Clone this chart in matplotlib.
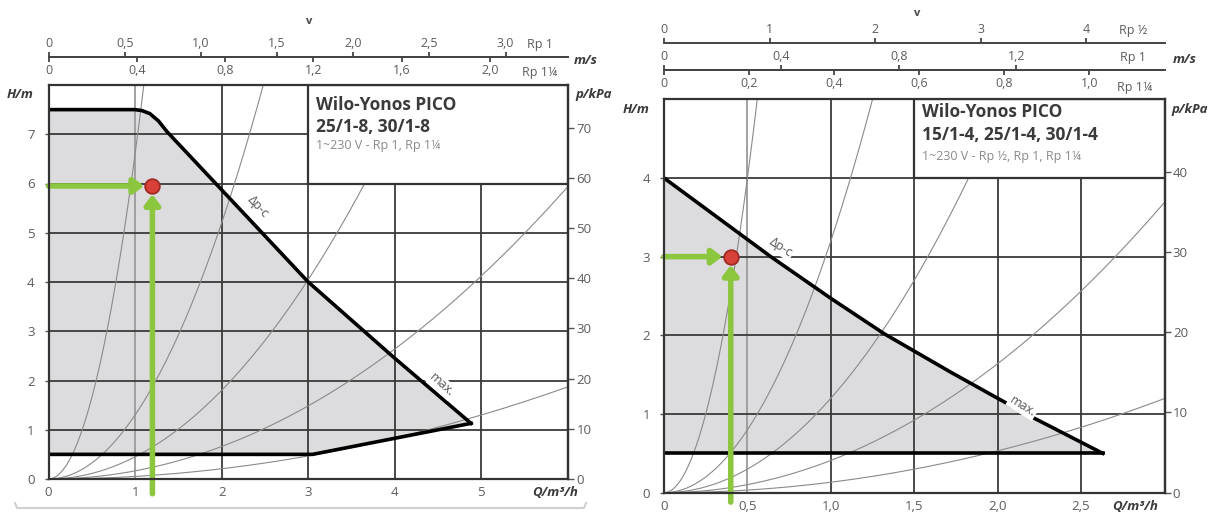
import matplotlib.pyplot as plt
import numpy as np
from matplotlib.patches import Rectangle
from matplotlib.lines import Line2D

plt.rcParams['font.family'] = ['Open Sans', 'DejaVu Sans']

# ---- left diagram: Wilo-Yonos PICO 25/1-8, 30/1-8 ----
left_q_ticks = [0, 1, 2, 3, 4, 5]
left_h_ticks = [0, 1, 2, 3, 4, 5, 6, 7]
left_p_ticks = [0, 10, 20, 30, 40, 50, 60, 70]
left_rp1_v = [0, 0.5, 1.0, 1.5, 2.0, 2.5, 3.0]
left_rp114_v = [0, 0.4, 0.8, 1.2, 1.6, 2.0]
left_max_q = [0, 1.0, 1.08, 1.17, 1.27, 1.37, 3.0, 4.0, 4.88]
left_max_h = [7.5, 7.5, 7.48, 7.42, 7.27, 7.05, 4.0, 2.45, 1.13]
left_min_q = [4.88, 3.05, 0]
left_min_h = [1.13, 0.5, 0.5]
left_system_k = [6.6, 1.3, 0.45, 0.165, 0.052]   # H = k * Q^2
left_duty = (1.2, 5.95)

# ---- right diagram: Wilo-Yonos PICO 15/1-4, 25/1-4, 30/1-4 ----
right_q_ticks = [0, 0.5, 1.0, 1.5, 2.0, 2.5]
right_h_ticks = [0, 1, 2, 3, 4]
right_p_ticks = [0, 10, 20, 30, 40]
right_rp12_v = [0, 1, 2, 3, 4]
right_rp1_v = [0, 0.4, 0.8, 1.2]
right_rp114_v = [0, 0.2, 0.4, 0.6, 0.8, 1.0]
right_max_q = [0, 0.64, 1.0, 1.32, 1.72, 2.17, 2.63]
right_max_h = [4.0, 3.0, 2.47, 2.02, 1.53, 1.0, 0.5]
right_min_q = [2.63, 0]
right_min_h = [0.5, 0.5]
right_system_k = [16, 3.2, 1.2, 0.41, 0.133]
right_duty = (0.4, 3.0)

# flow (m3/h) that gives 1 m/s in each thread size
q_per_ms = {'Rp ½': 0.633, 'Rp 1': 1.76, 'Rp 1¼': 2.55}

GRID = '#3a3a3a'
GRID_LIGHT = '#9a9a9a'
CURVE = '#8a8a8a'
FILL = '#dcdcde'
GREEN = '#8cc63f'
TXT = '#5c5c5c'
DARK = '#333333'


def comma(v):
    return '0' if v == 0 else f'{v:.1f}'.replace('.', ',')


def vel_axis(ax, loc, q_per, ticks, labels, side):
    sec = ax.secondary_xaxis(loc, functions=(lambda q: q / q_per, lambda v: v * q_per))
    sec.set_xticks(ticks)
    sec.set_xticklabels(labels)
    sec.xaxis.set_ticks_position(side)
    sec.tick_params(axis='x', direction='out', length=3.5, width=1.3, color='#444',
                    labelcolor=TXT, labelsize=9, pad=1.5)
    for s in sec.spines.values():
        s.set_color('#444')
        s.set_linewidth(1.4)
    return sec


def panel(ax, q_max, h_max, q_ticks, q_labels, h_ticks, p_ticks, light_q,
          max_q, max_h, min_q, min_h, ks, duty, arrow_from, box_q, box_h,
          lines, line_offs):
    ax.set_xlim(0, q_max)
    ax.set_ylim(0, h_max)
    ax.fill(max_q + min_q, max_h + min_h, color=FILL, lw=0, zorder=1)
    for q in q_ticks[1:]:
        ax.axvline(q, color=GRID_LIGHT if q in light_q else GRID, lw=1.3, zorder=2)
    for h in h_ticks[1:]:
        ax.axhline(h, color=GRID, lw=1.3, zorder=2)
    qq = np.linspace(0, q_max, 400)
    for k in ks:
        ax.plot(qq, k * qq ** 2, color=CURVE, lw=0.8, zorder=2.5)
    ax.add_patch(Rectangle((box_q, box_h), q_max - box_q, h_max - box_h,
                           facecolor='white', edgecolor=DARK, lw=1.6, zorder=3))
    ax.plot(max_q, max_h, color='black', lw=2.6, zorder=4, solid_joinstyle='round')
    ax.plot(min_q, min_h, color='black', lw=2.6, zorder=4, solid_joinstyle='round')

    # legend text in the white box
    styles = [dict(fontsize=12.5, fontweight='bold', color='#3a3a3a'),
              dict(fontsize=12.5, fontweight='bold', color='#3a3a3a'),
              dict(fontsize=9, color='#8a8a8a')]
    for txt, off, st in zip(lines, line_offs, styles):
        ax.annotate(txt, xy=(box_q, h_max), xytext=(5.5, off), textcoords='offset points',
                    va='center', ha='left', zorder=6, **st)

    # duty point with green guide arrows
    ax.annotate('', xy=duty, xytext=(0, duty[1]), annotation_clip=False, zorder=5,
                arrowprops=dict(arrowstyle='-|>,head_length=0.6,head_width=0.45',
                                color=GREEN, lw=4, shrinkA=0, shrinkB=6))
    ax.annotate('', xy=duty, xytext=(duty[0], arrow_from), annotation_clip=False, zorder=5,
                arrowprops=dict(arrowstyle='-|>,head_length=0.6,head_width=0.45',
                                color=GREEN, lw=4, shrinkA=0, shrinkB=6))
    ax.plot(*duty, 'o', ms=10.5, mfc='#d8413a', mec='#a02a22', mew=1.3, zorder=6, clip_on=False)

    for s in ax.spines.values():
        s.set_color(DARK)
        s.set_linewidth(1.6)
        s.set_zorder(5)
    ax.set_xticks(q_ticks)
    ax.set_xticklabels(q_labels)
    ax.set_yticks(h_ticks)
    ax.tick_params(axis='x', length=0, pad=5, labelcolor=TXT, labelsize=9.5)
    ax.tick_params(axis='y', length=3, width=1, color='#555', pad=7, labelcolor=TXT, labelsize=9.5)

    sp = ax.secondary_yaxis('right', functions=(lambda h: h * 9.81, lambda p: p / 9.81))
    sp.set_yticks(p_ticks)
    sp.tick_params(axis='y', length=4, width=1, color='#555', pad=2, labelcolor=TXT, labelsize=9.5)
    sp.spines['right'].set_color(DARK)
    sp.spines['right'].set_linewidth(1.6)

    unit = dict(fontsize=9.5, style='italic', fontweight='bold', color='#3a3a3a')
    ax.text(-0.055, 0.975, 'H/m', transform=ax.transAxes, ha='center', va='center', **unit)
    ax.text(1.05, 0.975, 'p/kPa', transform=ax.transAxes, ha='center', va='center', **unit)


fig = plt.figure(figsize=(12.19, 5.13), dpi=100)
W, H = 1219, 513

axL = fig.add_axes([48.5 / W, (H - 479) / H, 519.5 / W, 394 / H])
panel(axL, 6, 8, left_q_ticks, [str(q) for q in left_q_ticks], left_h_ticks, left_p_ticks, [1],
      left_max_q, left_max_h, left_min_q, left_min_h, left_system_k, left_duty, -0.3, 3, 6,
      ['Wilo-Yonos PICO', '25/1-8, 30/1-8', '1~230 V - Rp 1, Rp 1¼'], [-14.5, -30.5, -43.5])
axL.text(0.975, -0.034, 'Q/m³/h', transform=axL.transAxes, ha='center', va='center',
         fontsize=9.5, style='italic', fontweight='bold', color='#3a3a3a')
axL.text(2.42, 5.52, 'Δp-c', rotation=-47, rotation_mode='anchor', ha='center', va='center',
         fontsize=9, color='#555', zorder=4.5)
axL.text(4.54, 1.91, 'max.', rotation=-42, rotation_mode='anchor', ha='center', va='center',
         fontsize=9, color='#555', zorder=4.5,
         bbox=dict(facecolor='white', edgecolor='none', pad=1))
vel_axis(axL, 1.071, q_per_ms['Rp 1'], left_rp1_v, [comma(v) for v in left_rp1_v], 'top')
vel_axis(axL, 1.071, q_per_ms['Rp 1¼'], left_rp114_v, [comma(v) for v in left_rp114_v], 'bottom')
axL.text(0.946, 1.102, 'Rp 1', transform=axL.transAxes, ha='center', va='center', fontsize=9, color=TXT)
axL.text(0.946, 1.031, 'Rp 1¼', transform=axL.transAxes, ha='center', va='center', fontsize=9, color=TXT)
axL.text(1.035, 1.063, 'm/s', transform=axL.transAxes, ha='center', va='center',
         fontsize=9.5, style='italic', fontweight='bold', color='#3a3a3a')
axL.text(0.501, 1.16, 'v', transform=axL.transAxes, ha='center', va='center',
         fontsize=8, fontweight='bold', color='#444')

axR = fig.add_axes([664 / W, (H - 492.7) / H, 500.5 / W, 393.4 / H])
panel(axR, 3, 5, right_q_ticks, [comma(q) for q in right_q_ticks], right_h_ticks, right_p_ticks, [0.5],
      right_max_q, right_max_h, right_min_q, right_min_h, right_system_k, right_duty, -0.12, 1.5, 4,
      ['Wilo-Yonos PICO', '15/1-4, 25/1-4, 30/1-4', '1~230 V - Rp ½, Rp 1, Rp 1¼'], [-9.5, -26, -41])
axR.text(0.941, -0.034, 'Q/m³/h', transform=axR.transAxes, ha='center', va='center',
         fontsize=9.5, style='italic', fontweight='bold', color='#3a3a3a')
axR.text(0.70, 3.12, 'Δp-c', rotation=-33, rotation_mode='anchor', ha='center', va='center',
         fontsize=9, color='#555', zorder=4.5,
         bbox=dict(facecolor='white', edgecolor='none', pad=1))
axR.text(2.15, 1.1, 'max.', rotation=-32, rotation_mode='anchor', ha='center', va='center',
         fontsize=9, color='#555', zorder=4.5,
         bbox=dict(facecolor='white', edgecolor='none', pad=1))
vel_axis(axR, 1.143, q_per_ms['Rp ½'], right_rp12_v, [str(v) for v in right_rp12_v], 'top')
vel_axis(axR, 1.074, q_per_ms['Rp 1'], right_rp1_v, [comma(v) for v in right_rp1_v], 'top')
vel_axis(axR, 1.074, q_per_ms['Rp 1¼'], right_rp114_v, [comma(v) for v in right_rp114_v], 'bottom')
axR.text(0.937, 1.174, 'Rp ½', transform=axR.transAxes, ha='center', va='center', fontsize=9, color=TXT)
axR.text(0.937, 1.105, 'Rp 1', transform=axR.transAxes, ha='center', va='center', fontsize=9, color=TXT)
axR.text(0.941, 1.031, 'Rp 1¼', transform=axR.transAxes, ha='center', va='center', fontsize=9, color=TXT)
axR.text(1.041, 1.100, 'm/s', transform=axR.transAxes, ha='center', va='center',
         fontsize=9.5, style='italic', fontweight='bold', color='#3a3a3a')
axR.text(0.505, 1.217, 'v', transform=axR.transAxes, ha='center', va='center',
         fontsize=8, fontweight='bold', color='#444')

# light frame line under the left diagram
fig.add_artist(Line2D([15 / W, 17 / W, 584 / W, 586 / W],
                      [(H - 503) / H, (H - 508) / H, (H - 508) / H, (H - 503) / H],
                      color='#d0d0d0', lw=1.5))

fig.savefig('out.png', dpi=100)
